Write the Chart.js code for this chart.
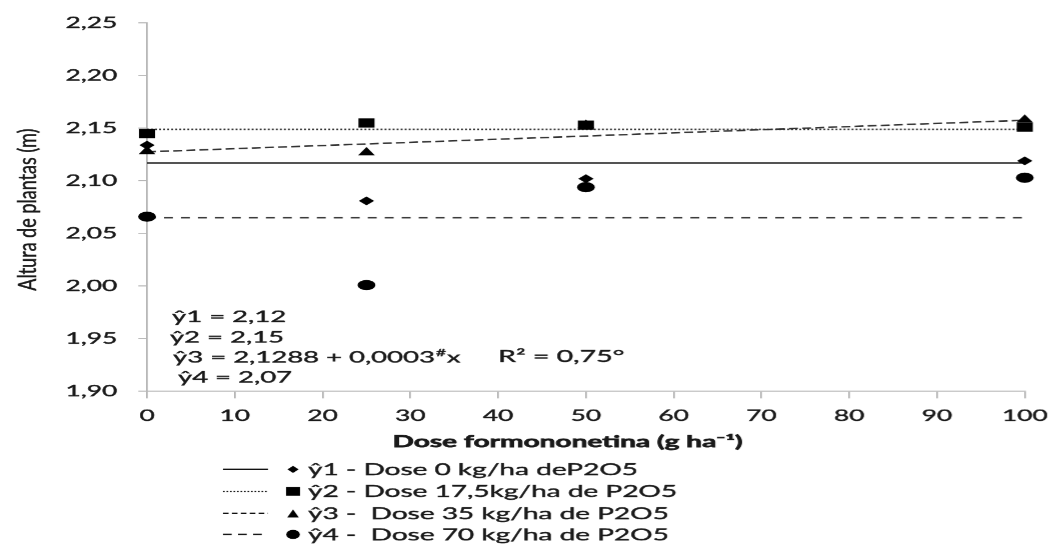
<!DOCTYPE html>
<html><head><meta charset="utf-8">
<script src="https://cdn.jsdelivr.net/npm/chart.js@4.4.1/dist/chart.umd.min.js"></script>
<style>
html,body{margin:0;padding:0;background:#fff;overflow:hidden;}
#wrap{width:1062px;height:545px;overflow:hidden;position:relative;}
#c{display:block;transform-origin:0 0;transform:scaleX(1.75);}
</style></head>
<body><div id="wrap"><canvas id="c" width="607" height="545"></canvas></div>
<script>
// ---- data ----
const doses = [0, 25, 50, 100];
const y1 = [2.134, 2.081, 2.102, 2.119];
const y2 = [2.145, 2.155, 2.153, 2.151];
const y3 = [2.128, 2.127, 2.153, 2.158];
const y4 = [2.066, 2.001, 2.094, 2.103];
const fitX = [0, 100];
const fit1 = [2.117, 2.117];
const fit2 = [2.149, 2.149];
const fit3 = [2.1276, 2.1576];
const fit4 = [2.065, 2.065];
const xTickVals = [0, 10, 20, 30, 40, 50, 60, 70, 80, 90, 100];
const yTickVals = [1.90, 1.95, 2.00, 2.05, 2.10, 2.15, 2.20, 2.25];
const legendLabels = ['ŷ1 - Dose 0 kg/ha deP2O5', 'ŷ2 - Dose 17,5kg/ha de P2O5', 'ŷ3 -  Dose 35 kg/ha de P2O5', 'ŷ4 -  Dose 70 kg/ha de P2O5'];
const eqLines = ['ŷ1 = 2,12', 'ŷ2 = 2,15', 'ŷ3 = 2,1288 + 0,0003', 'ŷ4 = 2,07'];
const r2Label = 'R² = 0,75°';
const xTitle = 'Dose formononetina (g ha⁻¹)';
const yTitle = 'Altura de plantas (m)';

const SX = 1.75;
const FONT = 'Lato, "Open Sans", sans-serif';
const AX = '#b4b4b4';
const TXT = '#1a1a1a';
const STROKE = 0.35;

const pts = (xs, ys) => xs.map((x, i) => ({x: x, y: ys[i]}));

function markerPath(ctx, kind, x, y, w, h) {
  ctx.beginPath();
  if (kind === 'diamond') {
    ctx.moveTo(x - w, y); ctx.lineTo(x, y - h); ctx.lineTo(x + w, y); ctx.lineTo(x, y + h); ctx.closePath();
  } else if (kind === 'square') {
    ctx.rect(x - w, y - h, 2 * w, 2 * h);
  } else if (kind === 'triangle') {
    ctx.moveTo(x, y - h); ctx.lineTo(x + w, y + h); ctx.lineTo(x - w, y + h); ctx.closePath();
  } else {
    ctx.ellipse(x, y, w, h, 0, 0, Math.PI * 2);
  }
  ctx.fillStyle = '#000';
  ctx.fill();
}

function txt(ctx, t, x, y) {
  ctx.fillText(t, x, y);
  ctx.strokeText(t, x, y);
}

const textPlugin = {
  id: 'texts',
  afterDraw(chart) {
    const ctx = chart.ctx;
    ctx.save();
    ctx.fillStyle = TXT;
    ctx.strokeStyle = TXT;
    ctx.lineWidth = STROKE;
    // equations
    const EQF = '15.7px ' + FONT;
    ctx.textAlign = 'left';
    ctx.textBaseline = 'alphabetic';
    const eqX = [98.3, 97.1, 98.9, 101.7];
    const eqY = [321.5, 342, 362, 382];
    eqLines.forEach((t, i) => {
      ctx.font = EQF;
      txt(ctx, t, eqX[i], eqY[i]);
      if (i === 2) {
        let w = ctx.measureText(t).width;
        ctx.font = '10px ' + FONT;
        txt(ctx, '#', eqX[i] + w + 0.5, eqY[i] - 6);
        let w2 = ctx.measureText('#').width;
        ctx.font = EQF;
        txt(ctx, 'x', eqX[i] + w + w2 + 1, eqY[i]);
      }
    });
    ctx.font = '16.3px ' + FONT;
    txt(ctx, r2Label, 284.6, 361.5);
    // x title
    ctx.font = 'bold 16px ' + FONT;
    ctx.textAlign = 'center';
    ctx.lineWidth = 0.6;
    txt(ctx, xTitle, 324.3, 446.8);
    ctx.lineWidth = STROKE;
    // y title
    ctx.save();
    ctx.translate(16.3, 209.5);
    ctx.rotate(-Math.PI / 2);
    ctx.scale(1, 0.78);
    ctx.font = '18px ' + FONT;
    ctx.textAlign = 'center';
    ctx.textBaseline = 'middle';
    txt(ctx, yTitle, 0, 0);
    ctx.restore();
    // legend
    const rows = [469, 491, 513, 534];
    const dashes = [[], [1, 1], [3.2, 1.9], [5, 3.6]];
    const kinds = ['diamond', 'square', 'triangle', 'ellipse'];
    const sizes = [[3.2, 3.6], [4, 4.3], [3.3, 4], [3.9, 4.6]];
    rows.forEach((ry, i) => {
      ctx.save();
      ctx.strokeStyle = '#111';
      ctx.lineWidth = i === 1 ? 1 : 1.4;
      ctx.setLineDash(dashes[i]);
      ctx.beginPath();
      ctx.moveTo(127.4, ry); ctx.lineTo(153.1, ry);
      ctx.stroke();
      ctx.restore();
      markerPath(ctx, kinds[i], 167.4, ry, sizes[i][0], sizes[i][1]);
      ctx.fillStyle = TXT;
      ctx.font = '16px ' + FONT;
      ctx.textAlign = 'left';
      ctx.textBaseline = 'alphabetic';
      txt(ctx, legendLabels[i], 176, ry + 5.8);
    });
    ctx.restore();
  }
};

const fmt = v => Number(v).toFixed(2).replace('.', ',');

const ptBase = {backgroundColor: '#000', borderColor: '#000', borderWidth: 0, showLine: false, order: 0, clip: false};

new Chart(document.getElementById('c'), {
  type: 'scatter',
  data: {
    datasets: [
      Object.assign({label: 'y1', data: pts(doses, y1), pointStyle: 'rectRot', pointRadius: 4.4}, ptBase),
      Object.assign({label: 'y2', data: pts(doses, y2), pointStyle: 'rect', pointRadius: 6.5}, ptBase),
      Object.assign({label: 'y3', data: pts(doses, y3), pointStyle: 'triangle', pointRadius: 5.5}, ptBase),
      Object.assign({label: 'y4', data: pts(doses, y4), pointStyle: 'circle', pointRadius: 5.1}, ptBase),
      {label: 'fit1', data: pts(fitX, fit1), showLine: true, pointRadius: 0, borderColor: '#111', borderWidth: 1.5, order: 1},
      {label: 'fit2', data: pts(fitX, fit2), showLine: true, pointRadius: 0, borderColor: '#333', borderWidth: 1.5, borderDash: [1.1, 1.2], order: 1},
      {label: 'fit3', data: pts(fitX, fit3), showLine: true, pointRadius: 0, borderColor: '#333', borderWidth: 1.5, borderDash: [5.1, 2.4], order: 1},
      {label: 'fit4', data: pts(fitX, fit4), showLine: true, pointRadius: 0, borderColor: '#333', borderWidth: 1.5, borderDash: [5.1, 4.6], order: 1}
    ]
  },
  options: {
    responsive: false,
    animation: false,
    devicePixelRatio: SX,
    layout: {padding: {left: 0, right: 12.7, top: 23, bottom: 0}},
    plugins: {legend: {display: false}, tooltip: {enabled: false}},
    scales: {
      x: {
        type: 'linear', min: 0, max: 100,
        afterBuildTicks: s => { s.ticks = xTickVals.map(v => ({value: v})); },
        afterFit: s => { s.height = 154; },
        ticks: {font: {family: FONT, size: 15}, color: TXT, padding: 8.5, maxRotation: 0, autoSkip: false, textStrokeWidth: STROKE, textStrokeColor: TXT},
        grid: {drawOnChartArea: false, tickLength: 7, color: AX},
        border: {color: AX, width: 1}
      },
      y: {
        min: 1.9, max: 2.25,
        afterBuildTicks: s => { s.ticks = yTickVals.map(v => ({value: v})); },
        afterFit: s => { s.width = 84; },
        ticks: {font: {family: FONT, size: 15}, color: TXT, padding: 12, callback: v => fmt(v), autoSkip: false, textStrokeWidth: STROKE, textStrokeColor: TXT},
        grid: {drawOnChartArea: false, tickLength: 5, color: AX},
        border: {color: AX, width: 1}
      }
    }
  },
  plugins: [textPlugin]
});
</script>
</body></html>
